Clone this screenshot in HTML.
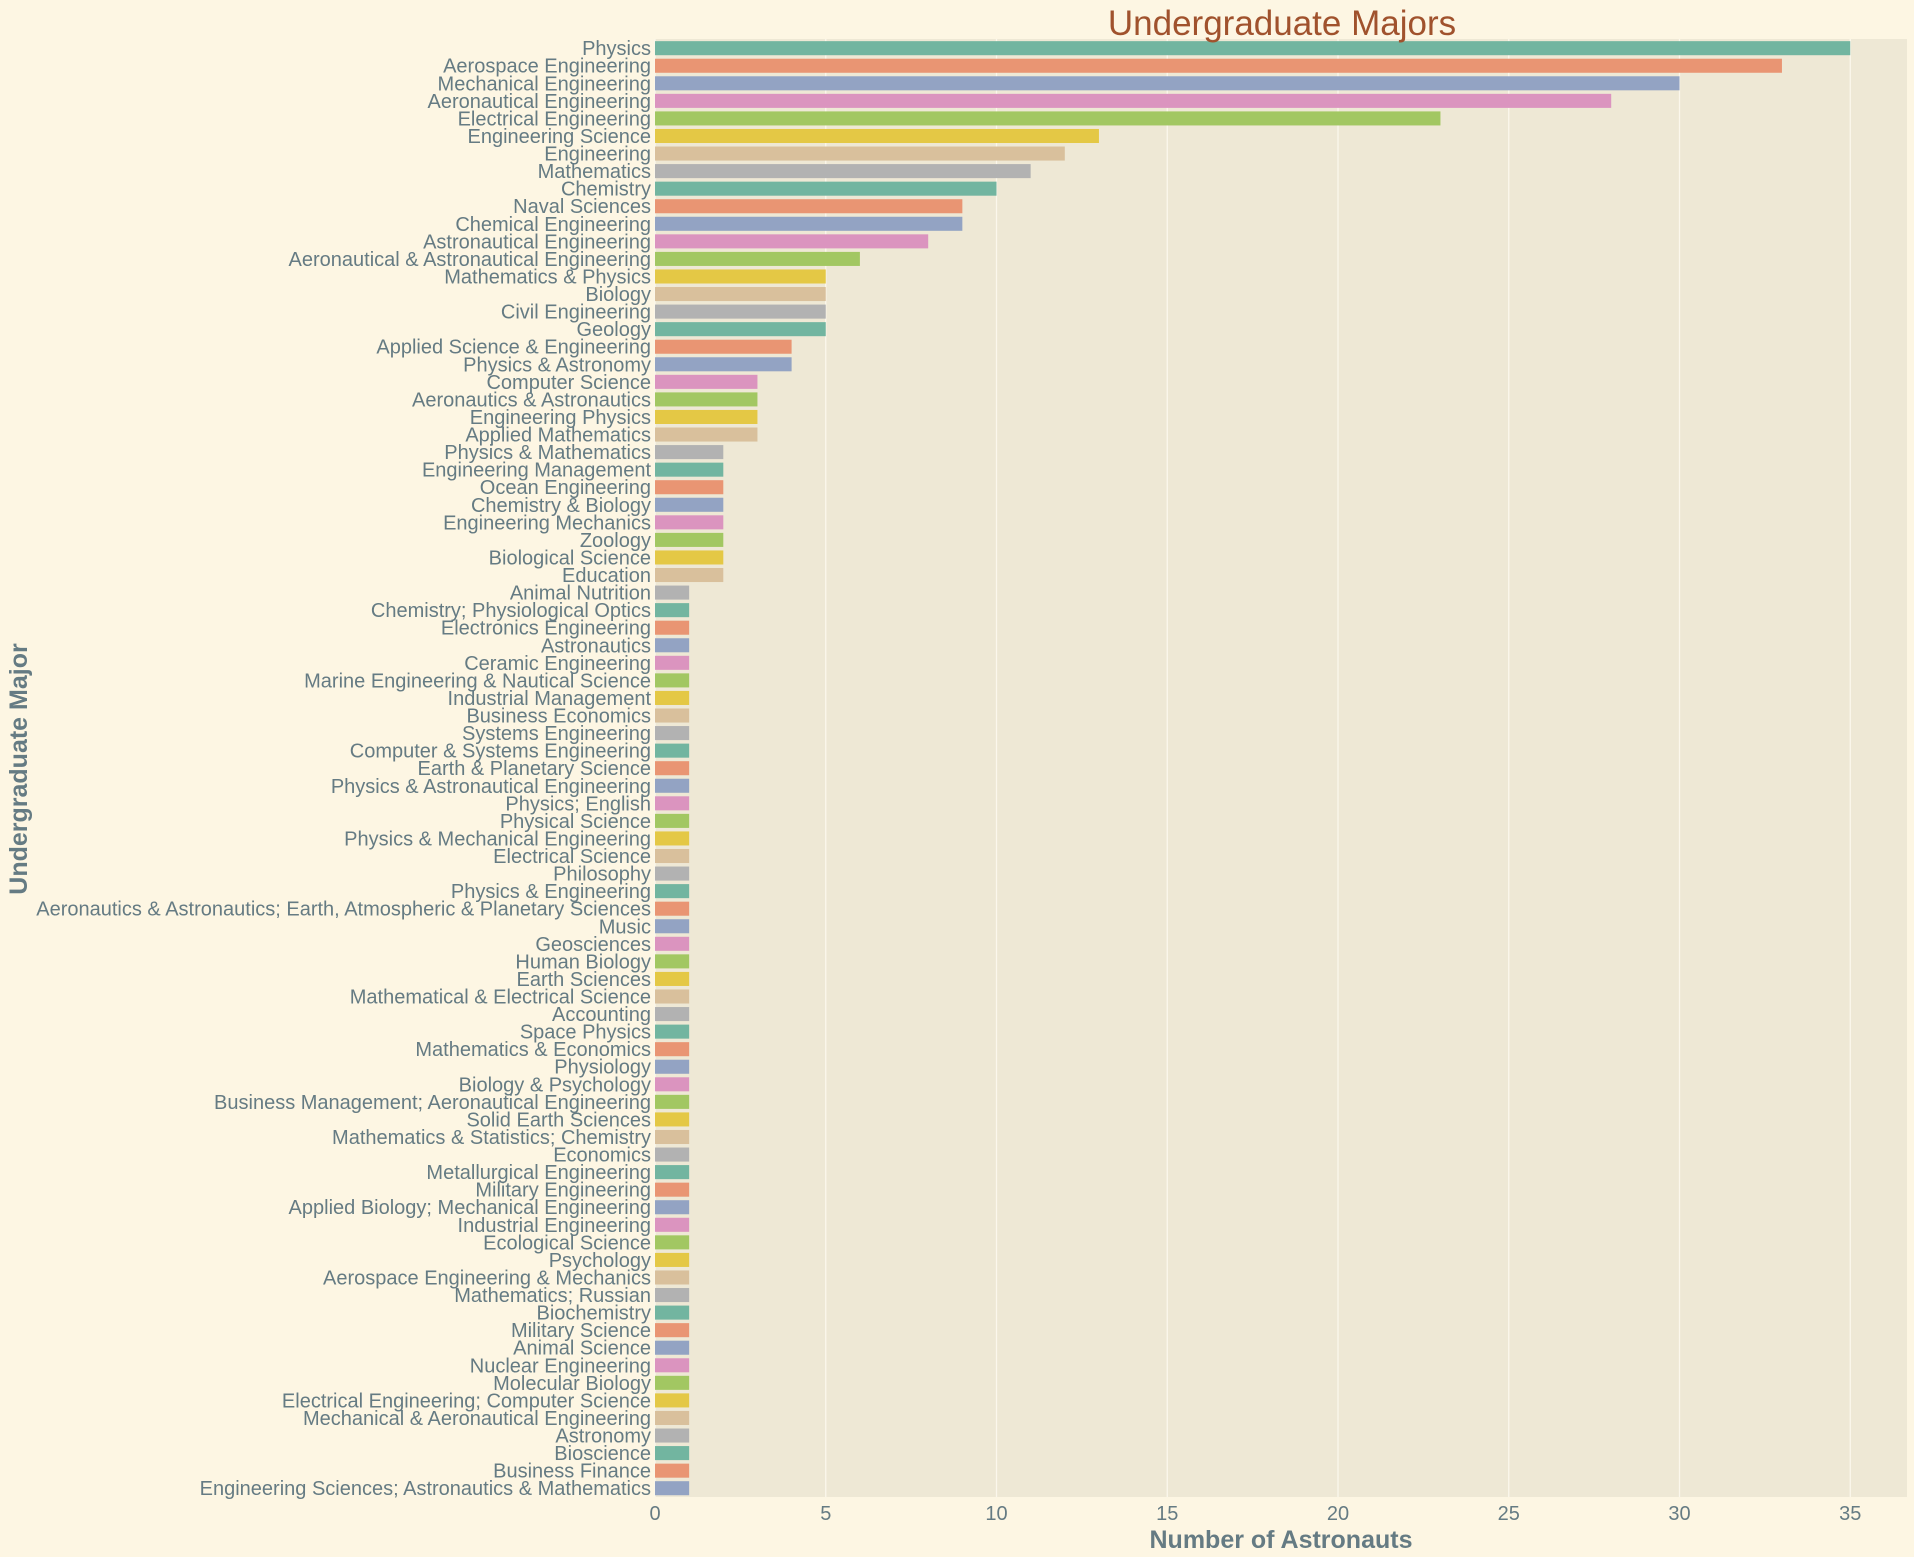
<!DOCTYPE html>
<html><head><meta charset="utf-8"><style>
html,body{margin:0;padding:0;background:#fdf6e3;}
svg{display:block;font-family:"Liberation Sans",sans-serif;}
</style></head><body>
<svg id="chart" width="1914" height="1557">
<rect x="0" y="0" width="1914" height="1557" fill="#fdf6e3"/>
<rect x="655" y="39" width="1252" height="1458" fill="#eee8d5"/>
<g id="grid"></g><g id="bars"></g><g id="ylabels"></g><g id="xticks"></g>
<text x="1282" y="35" text-anchor="middle" font-size="35" fill="#a0522d">Undergraduate Majors</text>
<text x="1281" y="1548" text-anchor="middle" font-size="25" font-weight="bold" fill="#657b83">Number of Astronauts</text>
<text transform="translate(27,769) rotate(-90)" text-anchor="middle" font-size="25" font-weight="bold" fill="#657b83">Undergraduate Major</text>
</svg>
<script>
const categories=["Physics","Aerospace Engineering","Mechanical Engineering","Aeronautical Engineering","Electrical Engineering","Engineering Science","Engineering","Mathematics","Chemistry","Naval Sciences","Chemical Engineering","Astronautical Engineering","Aeronautical & Astronautical Engineering","Mathematics & Physics","Biology","Civil Engineering","Geology","Applied Science & Engineering","Physics & Astronomy","Computer Science","Aeronautics & Astronautics","Engineering Physics","Applied Mathematics","Physics & Mathematics","Engineering Management","Ocean Engineering","Chemistry & Biology","Engineering Mechanics","Zoology","Biological Science","Education","Animal Nutrition","Chemistry; Physiological Optics","Electronics Engineering","Astronautics","Ceramic Engineering","Marine Engineering & Nautical Science","Industrial Management","Business Economics","Systems Engineering","Computer & Systems Engineering","Earth & Planetary Science","Physics & Astronautical Engineering","Physics; English","Physical Science","Physics & Mechanical Engineering","Electrical Science","Philosophy","Physics & Engineering","Aeronautics & Astronautics; Earth, Atmospheric & Planetary Sciences","Music","Geosciences","Human Biology","Earth Sciences","Mathematical & Electrical Science","Accounting","Space Physics","Mathematics & Economics","Physiology","Biology & Psychology","Business Management; Aeronautical Engineering","Solid Earth Sciences","Mathematics & Statistics; Chemistry","Economics","Metallurgical Engineering","Military Engineering","Applied Biology; Mechanical Engineering","Industrial Engineering","Ecological Science","Psychology","Aerospace Engineering & Mechanics","Mathematics; Russian","Biochemistry","Military Science","Animal Science","Nuclear Engineering","Molecular Biology","Electrical Engineering; Computer Science","Mechanical & Aeronautical Engineering","Astronomy","Bioscience","Business Finance","Engineering Sciences; Astronautics & Mathematics"];
const counts=[35,33,30,28,23,13,12,11,10,9,9,8,6,5,5,5,5,4,4,3,3,3,3,2,2,2,2,2,2,2,2,1,1,1,1,1,1,1,1,1,1,1,1,1,1,1,1,1,1,1,1,1,1,1,1,1,1,1,1,1,1,1,1,1,1,1,1,1,1,1,1,1,1,1,1,1,1,1,1,1,1,1,1];
const xTicks=[0,5,10,15,20,25,30,35];
const palette=["#72b5a0","#e99573","#93a3c3","#db94bf","#a2c762","#e4c845","#d9c09c","#b2b2b2"];
const NS="http://www.w3.org/2000/svg";
const x0=655,unit=34.15,yTop=39.4,yBottom=1497;
const band=(yBottom-yTop)/categories.length;
const xs=v=>x0+v*unit;
const ys=i=>yTop+i*band;
function mk(t,a){const e=document.createElementNS(NS,t);for(const k in a)e.setAttribute(k,a[k]);return e;}
const grid=document.getElementById('grid'),bars=document.getElementById('bars'),yl=document.getElementById('ylabels'),xt=document.getElementById('xticks');
xTicks.forEach(v=>{
  const l=mk('line',{x1:xs(v),x2:xs(v),y1:39,y2:yBottom,stroke:'#fbf7ec','stroke-width':1.3});
  
  
  grid.appendChild(l);
  const t=mk('text',{x:xs(v),y:1520,'text-anchor':'middle','font-size':20,fill:'#657b83'});
  t.textContent=v;
  
  
  xt.appendChild(t);
});
categories.forEach((c,i)=>{
  const r=mk('rect',{x:x0,y:ys(i)+band*0.1,width:xs(counts[i])-x0,height:band*0.8,fill:palette[i%8]});
  
  
  bars.appendChild(r);
  const t=mk('text',{x:651,y:ys(i)+band/2+7,'text-anchor':'end','font-size':20,fill:'#657b83'});
  t.textContent=c;
  
  
  yl.appendChild(t);
});
</script>
</body></html>
